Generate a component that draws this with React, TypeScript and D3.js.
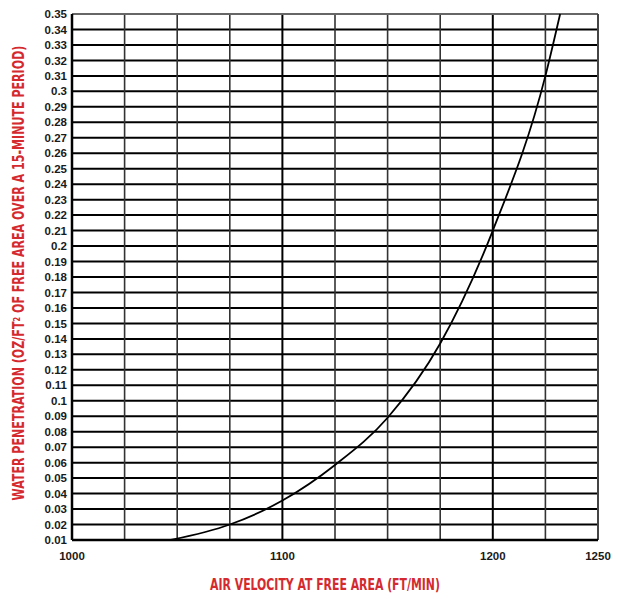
import * as d3 from "d3";
import { useEffect, useRef } from "react";

// air velocity (ft/min) vs water penetration (oz/ft²)
const velocity = [1047, 1075, 1100, 1125, 1150, 1175, 1200, 1225, 1232];
const penetration = [0.01, 0.02, 0.0355, 0.0585, 0.089, 0.137, 0.21, 0.31, 0.35];

const xTickLabels = [1000, 1100, 1200, 1250];
const xGrid = d3.range(1025, 1250, 25);
const yTicks = d3.range(1, 36).map((d) => d / 100);

const RED = "#d42a2f";

export default function App() {
  const ref = useRef<SVGSVGElement>(null);

  useEffect(() => {
    if (!ref.current) return;
    const svg = d3.select(ref.current);
    svg.selectAll("*").remove();

    const margin = { top: 14, right: 20, bottom: 59, left: 72 };
    const W = 618;
    const H = 599;

    const x = d3
      .scaleLinear()
      .domain([1000, 1250])
      .range([margin.left, W - margin.right]);
    const y = d3
      .scaleLinear()
      .domain([0.01, 0.35])
      .range([H - margin.bottom, margin.top]);

    // horizontal grid
    svg
      .append("g")
      .selectAll("line")
      .data(yTicks)
      .enter()
      .append("line")
      .attr("x1", x(1000))
      .attr("x2", x(1250))
      .attr("y1", (d) => y(d))
      .attr("y2", (d) => y(d))
      .attr("stroke", "#000")
      .attr("stroke-width", 2);

    // vertical grid
    svg
      .append("g")
      .selectAll("line")
      .data(xGrid)
      .enter()
      .append("line")
      .attr("x1", (d) => x(d))
      .attr("x2", (d) => x(d))
      .attr("y1", y(0.35))
      .attr("y2", y(0.01))
      .attr("stroke", (d) => (d % 100 === 0 ? "#000" : "#333"))
      .attr("stroke-width", (d) => (d % 100 === 0 ? 2 : 1.6));

    // frame
    const frame = [
      { x1: 1000, y1: 0.35, x2: 1250, y2: 0.35, c: "#666", w: 2 },
      { x1: 1250, y1: 0.35, x2: 1250, y2: 0.01, c: "#444", w: 2 },
      { x1: 1000, y1: 0.35, x2: 1000, y2: 0.01, c: "#000", w: 2.5 },
      { x1: 1000, y1: 0.01, x2: 1250, y2: 0.01, c: "#000", w: 2.5 },
    ];
    svg
      .append("g")
      .selectAll("line")
      .data(frame)
      .enter()
      .append("line")
      .attr("x1", (d) => x(d.x1))
      .attr("x2", (d) => x(d.x2))
      .attr("y1", (d) => y(d.y1))
      .attr("y2", (d) => y(d.y2))
      .attr("stroke", (d) => d.c)
      .attr("stroke-width", (d) => d.w);

    // curve
    const pts: [number, number][] = velocity.map((v, i) => [v, penetration[i]]);
    const line = d3
      .line<[number, number]>()
      .x((d) => x(d[0]))
      .y((d) => y(d[1]))
      .curve(d3.curveMonotoneX);
    svg
      .append("path")
      .attr("d", line(pts))
      .attr("fill", "none")
      .attr("stroke", "#000")
      .attr("stroke-width", 1.8);

    const tickFont = "Arial, 'Liberation Sans', sans-serif";

    // y tick labels
    svg
      .append("g")
      .selectAll("text")
      .data(yTicks)
      .enter()
      .append("text")
      .attr("x", margin.left - 5)
      .attr("y", (d) => y(d))
      .attr("dy", "0.36em")
      .attr("text-anchor", "end")
      .attr("font-family", tickFont)
      .attr("font-weight", "bold")
      .attr("font-size", 11.5)
      .attr("fill", "#1a1a1a")
      .text((d) => String(+d.toFixed(2)));

    // x tick labels
    svg
      .append("g")
      .selectAll("text")
      .data(xTickLabels)
      .enter()
      .append("text")
      .attr("x", (d) => x(d))
      .attr("y", y(0.01) + 16)
      .attr("dy", "0.36em")
      .attr("text-anchor", "middle")
      .attr("font-family", tickFont)
      .attr("font-weight", "bold")
      .attr("font-size", 11.5)
      .attr("fill", "#1a1a1a")
      .text((d) => String(d));

    const titleFont = "'DejaVu Sans Condensed', 'DejaVu Sans', sans-serif";

    // x title, squeezed to the reference width
    const xt = svg
      .append("text")
      .attr("dy", "0.35em")
      .attr("text-anchor", "middle")
      .attr("font-family", titleFont)
      .attr("font-weight", "bold")
      .attr("font-size", 15)
      .attr("fill", RED)
      .text("AIR VELOCITY AT FREE AREA (FT/MIN)");
    const xw = (xt.node() as SVGTextElement).getComputedTextLength();
    xt.attr("transform", `translate(325,585) scale(${230 / xw},1)`);

    // y title
    const yt = svg
      .append("text")
      .attr("dy", "0.35em")
      .attr("text-anchor", "middle")
      .attr("font-family", titleFont)
      .attr("font-weight", "bold")
      .attr("font-size", 15)
      .attr("fill", RED);
    yt.append("tspan").text("WATER PENETRATION (OZ/FT");
    yt.append("tspan").attr("font-size", 9).attr("dy", "-0.5em").text("2");
    yt.append("tspan")
      .attr("dy", "0.3em")
      .text(" OF FREE AREA OVER A 15-MINUTE PERIOD)");
    const yw = (yt.node() as SVGTextElement).getComputedTextLength();
    yt.attr("transform", `translate(19,273) rotate(-90) scale(${455 / yw},1)`);
  }, []);

  return (
    <svg
      ref={ref}
      width={618}
      height={599}
      style={{ position: "absolute", left: 0, top: 0, background: "#fff" }}
    ></svg>
  );
}
